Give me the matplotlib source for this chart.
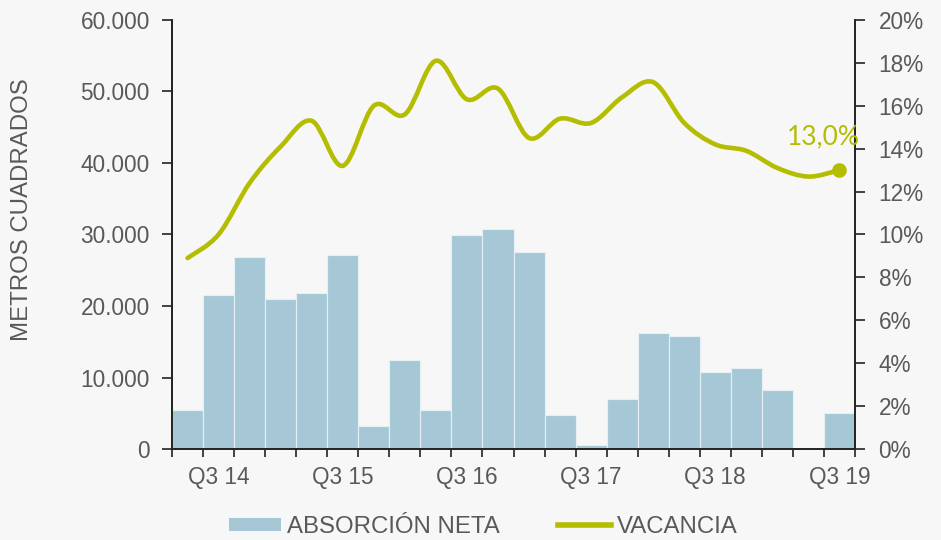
import numpy as np
import matplotlib.pyplot as plt
from matplotlib.path import Path
from matplotlib.patches import PathPatch, Patch
from matplotlib.lines import Line2D
from matplotlib.ticker import FuncFormatter

# Datos trimestrales Q2 14 - Q3 19
trimestres = ["Q2 14", "Q3 14", "Q4 14", "Q1 15", "Q2 15", "Q3 15", "Q4 15", "Q1 16",
              "Q2 16", "Q3 16", "Q4 16", "Q1 17", "Q2 17", "Q3 17", "Q4 17", "Q1 18",
              "Q2 18", "Q3 18", "Q4 18", "Q1 19", "Q2 19", "Q3 19"]
absorcion = [5500, 21500, 26800, 21000, 21800, 27200, 3200, 12500, 5500, 29900, 30700,
             27600, 4700, 500, 7000, 16200, 15800, 10800, 11300, 8200, 0, 5000]
vacancia = [8.9, 10.0, 12.4, 14.1, 15.3, 13.2, 16.0, 15.6, 18.1, 16.3, 16.8,
            14.5, 15.4, 15.2, 16.4, 17.1, 15.2, 14.2, 13.9, 13.1, 12.7, 13.0]
etiquetas_x = ["Q3 14", "Q3 15", "Q3 16", "Q3 17", "Q3 18", "Q3 19"]

c_barra = "#a6c8d6"
c_linea = "#b5bd00"
c_texto = "#595959"
fondo = "#f7f7f7"
fs_ticks = 16.3
fs_texto = 17.3

plt.rcParams['font.family'] = ['Liberation Sans', 'DejaVu Sans']

fig = plt.figure(figsize=(9.41, 5.4), dpi=100, facecolor=fondo)
ax = fig.add_axes([0.1828, 0.1685, 0.7258, 0.7945], facecolor=fondo)
ax2 = ax.twinx()

n = len(trimestres)
x = np.arange(n) + 0.5
ax.bar(x, absorcion, width=1.0, color=c_barra, edgecolor="#e6eff3", linewidth=0.8)
ax.set_xlim(0, n)
ax.set_ylim(0, 60000)
ax.set_yticks(np.arange(0, 60001, 10000))
ax.yaxis.set_major_formatter(FuncFormatter(lambda v, p: f"{int(v):,}".replace(",", ".")))

# ticks en los limites de trimestre, etiquetas centradas
ax.set_xticks(np.arange(0, n + 1))
ax.set_xticklabels([])
ax.set_xticks([x[trimestres.index(e)] for e in etiquetas_x], minor=True)
ax.set_xticklabels(etiquetas_x, minor=True)
ax.tick_params(axis="x", which="major", length=6, width=1.2, direction="out", color="#222222")
ax.tick_params(axis="x", which="minor", length=0, pad=12, labelsize=fs_ticks, labelcolor=c_texto)
ax.tick_params(axis="y", length=7, width=1.2, color="#222222", labelsize=fs_ticks,
               labelcolor=c_texto, pad=9)
fig.text(22.5 / 941, 1 - 210 / 540, "METROS CUADRADOS", rotation=90, ha="center", va="center",
         color=c_texto, fontsize=fs_texto)

# linea suavizada (estilo Excel) de vacancia
ax2.set_ylim(0, 0.20)
ax2.set_yticks(np.arange(0, 0.201, 0.02))
ax2.yaxis.set_major_formatter(FuncFormatter(lambda v, p: f"{v*100:.0f}%"))
ax2.tick_params(axis="y", length=7, width=1.2, color="#222222", labelsize=fs_ticks,
                labelcolor=c_texto, pad=10)

pts = np.column_stack([x, np.array(vacancia) / 100])
verts = [pts[0]]
codes = [Path.MOVETO]
for i in range(n - 1):
    p0 = pts[i - 1] if i > 0 else pts[i]
    p1, p2 = pts[i], pts[i + 1]
    p3 = pts[i + 2] if i + 2 < n else pts[i + 1]
    verts += [p1 + (p2 - p0) / 6, p2 - (p3 - p1) / 6, p2]
    codes += [Path.CURVE4] * 3
ax2.add_patch(PathPatch(Path(verts, codes), facecolor="none", edgecolor=c_linea,
                        lw=3.3, capstyle="round", joinstyle="round"))
ax2.plot(x[-1], vacancia[-1] / 100, "o", color=c_linea, ms=9.5)
ax2.annotate(f"{vacancia[-1]:.1f}%".replace(".", ","), (x[-1], vacancia[-1] / 100),
             xytext=(-11.5, 24), textcoords="offset points", ha="center", va="center",
             color=c_linea, fontsize=19, fontweight="normal", family=["Lato", "DejaVu Sans"])

for a in (ax, ax2):
    a.spines["top"].set_visible(False)
    for s in ("left", "right", "bottom"):
        a.spines[s].set_color("#222222")
        a.spines[s].set_linewidth(1.2)

handles = [Patch(facecolor=c_barra, label="ABSORCIÓN NETA"),
           Line2D([], [], color=c_linea, lw=4, label="VACANCIA")]
leg = fig.legend(handles=handles, loc="center", bbox_to_anchor=(483 / 941, 13 / 540), ncol=2,
                 frameon=False, fontsize=fs_texto, handlelength=2.2, handleheight=0.5,
                 columnspacing=2.4, handletextpad=0.25, borderpad=0)
for t in leg.get_texts():
    t.set_color(c_texto)

fig.savefig("out.png", dpi=100, facecolor=fondo)
